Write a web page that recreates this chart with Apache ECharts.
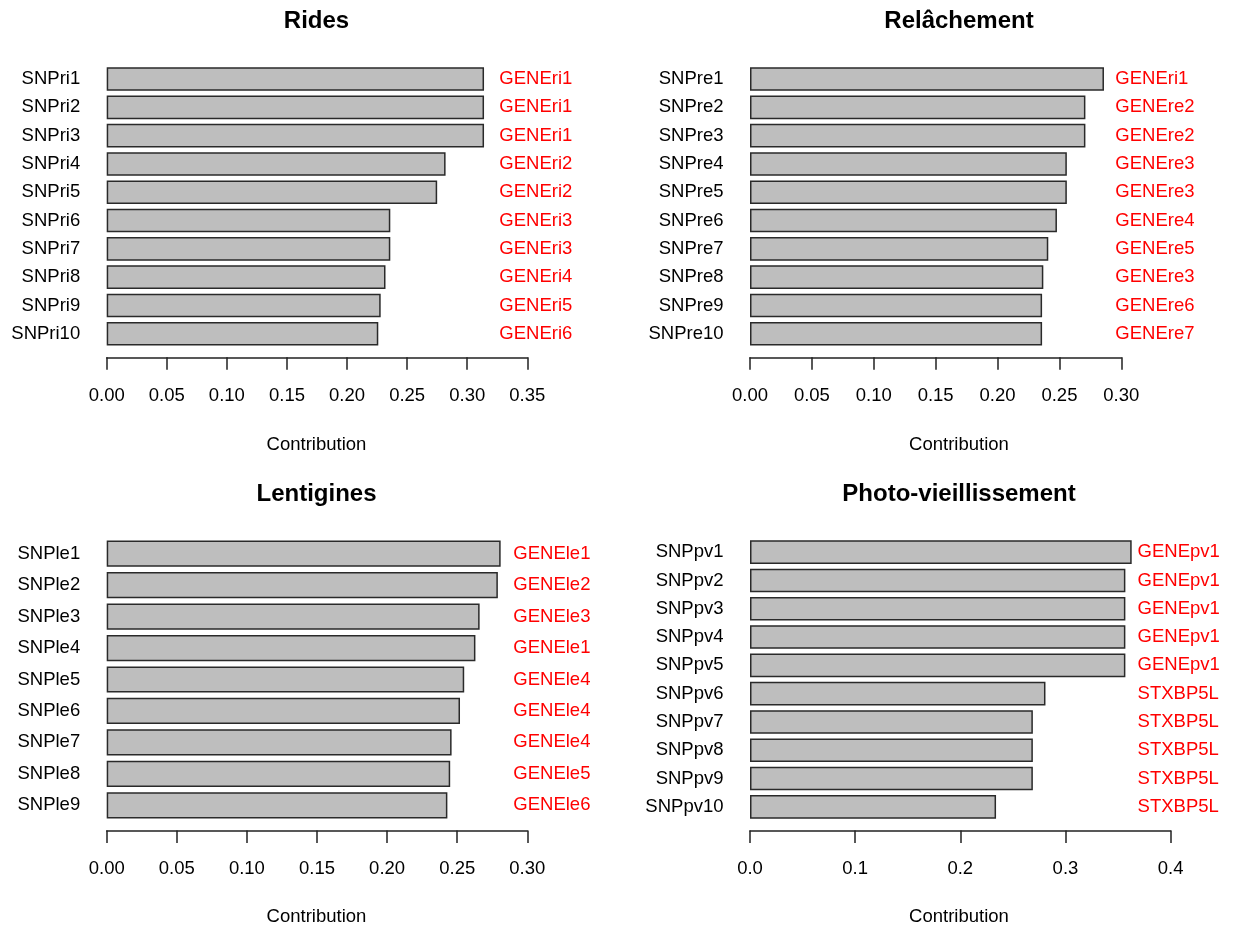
<!DOCTYPE html>
<html>
<head>
<meta charset="utf-8">
<script src="https://cdn.jsdelivr.net/npm/echarts@6/dist/echarts.min.js"></script>
<style>
html,body{margin:0;padding:0;background:#fff;}
#chart{width:1234px;height:929px;}
</style>
</head>
<body>
<div id="chart"></div>
<script>
// ---- Data ----
const ridesTitle = 'Rides';
const ridesSnps = ['SNPri1','SNPri2','SNPri3','SNPri4','SNPri5','SNPri6','SNPri7','SNPri8','SNPri9','SNPri10'];
const ridesValues = [0.314,0.314,0.314,0.282,0.275,0.236,0.236,0.232,0.228,0.226];
const ridesGenes = ['GENEri1','GENEri1','GENEri1','GENEri2','GENEri2','GENEri3','GENEri3','GENEri4','GENEri5','GENEri6'];
const ridesAxisMax = 0.35, ridesAxisStep = 0.05;

const relTitle = 'Relâchement';
const relSnps = ['SNPre1','SNPre2','SNPre3','SNPre4','SNPre5','SNPre6','SNPre7','SNPre8','SNPre9','SNPre10'];
const relValues = [0.286,0.271,0.271,0.256,0.256,0.248,0.241,0.237,0.236,0.236];
const relGenes = ['GENEri1','GENEre2','GENEre2','GENEre3','GENEre3','GENEre4','GENEre5','GENEre3','GENEre6','GENEre7'];
const relAxisMax = 0.30, relAxisStep = 0.05;

const lenTitle = 'Lentigines';
const lenSnps = ['SNPle1','SNPle2','SNPle3','SNPle4','SNPle5','SNPle6','SNPle7','SNPle8','SNPle9'];
const lenValues = [0.281,0.279,0.266,0.263,0.255,0.252,0.246,0.245,0.243];
const lenGenes = ['GENEle1','GENEle2','GENEle3','GENEle1','GENEle4','GENEle4','GENEle4','GENEle5','GENEle6'];
const lenAxisMax = 0.30, lenAxisStep = 0.05;

const pvTitle = 'Photo-vieillissement';
const pvSnps = ['SNPpv1','SNPpv2','SNPpv3','SNPpv4','SNPpv5','SNPpv6','SNPpv7','SNPpv8','SNPpv9','SNPpv10'];
const pvValues = [0.363,0.357,0.357,0.357,0.357,0.281,0.269,0.269,0.269,0.234];
const pvGenes = ['GENEpv1','GENEpv1','GENEpv1','GENEpv1','GENEpv1','STXBP5L','STXBP5L','STXBP5L','STXBP5L','STXBP5L'];
const pvAxisMax = 0.4, pvAxisStep = 0.1;

const xAxisLabel = 'Contribution';

// ---- Layout ----
const FONT = "'Liberation Sans', Arial, sans-serif";
const FS = 18.5;
const panels = [
  {title: ridesTitle, snps: ridesSnps, vals: ridesValues, genes: ridesGenes, max: ridesAxisMax, step: ridesAxisStep, dec: 2,
   left: 106.7, width: 420.6, top: 64.9, height: 283, geneMargin: -28, cx: 316.5, titleY: 21, nameY: 445},
  {title: relTitle, snps: relSnps, vals: relValues, genes: relGenes, max: relAxisMax, step: relAxisStep, dec: 2,
   left: 750, width: 371.3, top: 64.9, height: 283, geneMargin: -6, cx: 959, titleY: 21, nameY: 445},
  {title: lenTitle, snps: lenSnps, vals: lenValues, genes: lenGenes, max: lenAxisMax, step: lenAxisStep, dec: 2,
   left: 106.7, width: 420.6, top: 538, height: 283, geneMargin: -14, cx: 316.5, titleY: 494, nameY: 917},
  {title: pvTitle, snps: pvSnps, vals: pvValues, genes: pvGenes, max: pvAxisMax, step: pvAxisStep, dec: 1,
   left: 750, width: 420.6, top: 538, height: 283, geneMargin: -33, cx: 959, titleY: 494, nameY: 917}
];

const grid = [], xAxis = [], yAxis = [], series = [], graphic = [];
panels.forEach((p, i) => {
  grid.push({left: p.left, top: p.top, width: p.width, height: p.height, containLabel: false});
  xAxis.push({
    type: 'value', gridIndex: i, min: 0, max: p.max, interval: p.step, offset: 9.4,
    axisLine: {show: true, lineStyle: {color: '#222', width: 1.5}},
    axisTick: {show: true, length: 12.5, lineStyle: {color: '#222', width: 1.5}},
    splitLine: {show: false},
    axisLabel: {margin: 29, color: '#000', fontFamily: FONT, fontSize: FS,
      formatter: v => v.toFixed(p.dec)}
  });
  yAxis.push({
    type: 'category', gridIndex: i, data: p.snps, inverse: true, position: 'left',
    axisLine: {show: false}, axisTick: {show: false}, splitLine: {show: false},
    axisLabel: {margin: 26.5, color: '#000', fontFamily: FONT, fontSize: FS, padding: [2, 0, 0, 0]}
  });
  yAxis.push({
    type: 'category', gridIndex: i, data: p.genes, inverse: true, position: 'right',
    axisLine: {show: false}, axisTick: {show: false}, splitLine: {show: false},
    axisLabel: {margin: p.geneMargin, align: 'left', color: '#ff0000', fontFamily: FONT, fontSize: FS, padding: [5, 0, 0, 0]}
  });
  series.push({
    type: 'bar', xAxisIndex: i, yAxisIndex: 2 * i, data: p.vals,
    barCategoryGap: '16.67%', silent: true,
    itemStyle: {color: '#bebebe', borderColor: '#2a2a2a', borderWidth: 1.5}
  });
  graphic.push({type: 'text', x: p.cx, y: p.titleY, style: {text: p.title, align: 'center', verticalAlign: 'middle',
    font: 'bold 24px ' + FONT, fill: '#000'}});
  graphic.push({type: 'text', x: p.cx, y: p.nameY, style: {text: xAxisLabel, align: 'center', verticalAlign: 'middle',
    font: FS + 'px ' + FONT, fill: '#000'}});
});

const chart = echarts.init(document.getElementById('chart'), null, {renderer: 'canvas'});
chart.setOption({
  animation: false,
  backgroundColor: '#ffffff',
  grid, xAxis, yAxis, series, graphic
});
</script>
</body>
</html>
